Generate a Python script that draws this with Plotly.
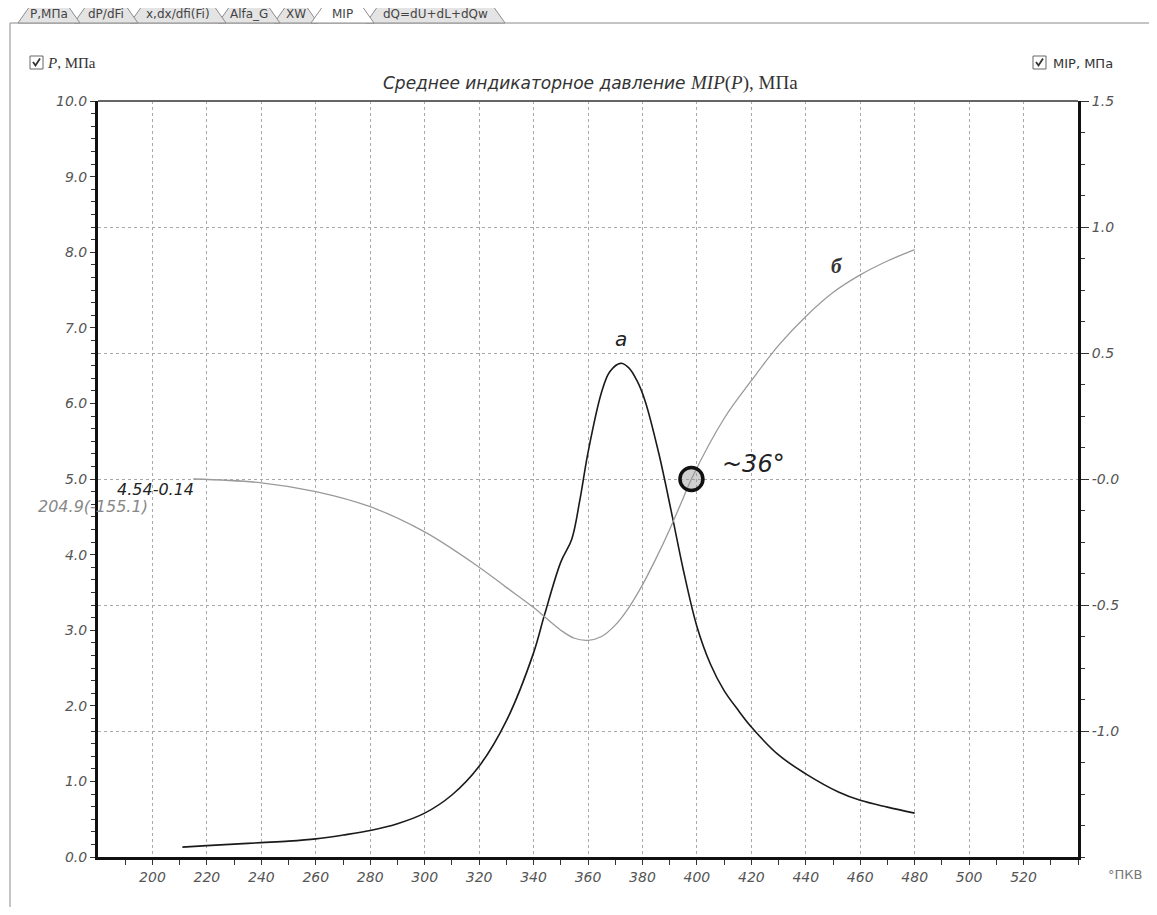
import plotly.graph_objects as go

# ---------------- data ----------------
deg_p = [211, 220, 230, 240, 250, 260, 270, 280, 290, 300, 310, 320, 330, 340, 344, 350, 354,
         357, 360, 365, 368, 372, 375, 378, 381, 386, 391, 395, 400, 405, 410, 415, 420, 430, 440,
         452, 460, 470, 480]
p_mpa = [0.13, 0.15, 0.17, 0.19, 0.21, 0.24, 0.29, 0.35, 0.44, 0.58, 0.82, 1.2, 1.8, 2.7, 3.2,
         3.9, 4.2, 4.72, 5.35, 6.15, 6.42, 6.53, 6.47, 6.3, 6.03, 5.34, 4.5, 3.8, 3.05, 2.55, 2.2,
         1.95, 1.72, 1.35, 1.1, 0.86, 0.75, 0.66, 0.58]

deg_m = [215, 240, 260, 280, 300, 320, 330, 340, 350, 355, 360, 365, 370, 375, 380, 385, 390,
         395, 398, 410, 420, 430, 440, 450, 460, 470, 480]
mip = [0.0, -0.015, -0.05, -0.11, -0.21, -0.35, -0.43, -0.51, -0.6, -0.632, -0.64, -0.625,
       -0.58, -0.51, -0.42, -0.315, -0.2, -0.075, 0.0, 0.24, 0.39, 0.53, 0.645, 0.74, 0.81,
       0.865, 0.91]

x_ticks = list(range(200, 521, 20))
x_minor = list(range(190, 541, 10))
y_ticks = [i for i in range(0, 11)]
y_text = [f"{v:.1f}" for v in y_ticks]
y2_ticks = [1.5, 1.0, 0.5, 0.0, -0.5, -1.0]
y2_text = ["1.5", "1.0", "0.5", "-0.0", "-0.5", "-1.0"]

tabs = ["P,МПа", "dP/dFi", "x,dx/dfi(Fi)", "Alfa_G", "XW", "MIP", "dQ=dU+dL+dQw"]
tab_edges = [(18, 80), (74, 138), (130, 226), (218, 280), (274, 318), (311, 374), (366, 505)]
active_tab = 5

# -------------- layout (page pixels; the page body has an 8px margin) --------------
OFF = 8
W, H = 1157 - 2 * OFF, 915 - 2 * OFF
L, R, T, B = 98, 1078, 101, 857  # plot area in page pixels


def px(x):
    return (x - L) / (R - L)


def py(y):
    return (B - y) / (B - T)


tick_font = dict(family="DejaVu Sans", size=14, color="#555555", style="italic")

fig = go.Figure()
fig.add_trace(go.Scatter(x=deg_p, y=p_mpa, mode="lines", line=dict(color="#1a1a1a", width=1.6, shape="spline"),
                         showlegend=False, hoverinfo="skip"))
fig.add_trace(go.Scatter(x=deg_m, y=mip, mode="lines", line=dict(color="#9a9a9a", width=1.3, shape="spline"),
                         yaxis="y2", showlegend=False, hoverinfo="skip"))
fig.add_trace(go.Scatter(x=[398], y=[0.0], mode="markers", yaxis="y2",
                         marker=dict(size=23, color="rgba(150,150,150,0.45)", line=dict(color="#111", width=3.5)),
                         showlegend=False, hoverinfo="skip"))

fig.update_layout(
    width=W, height=H,
    margin=dict(l=L - OFF, r=W - (R - OFF), t=T - OFF, b=H - (B - OFF), autoexpand=False),
    paper_bgcolor="white", plot_bgcolor="white",
    xaxis=dict(range=[180, 540], tickmode="array", tickvals=x_ticks, ticks="outside", ticklen=5,
               tickcolor="#333", tickfont=tick_font, showgrid=True, gridcolor="#a8a8a8",
               griddash="dot", gridwidth=1, showline=True, linecolor="#111", linewidth=3,
               zeroline=False,
               minor=dict(tickmode="array", tickvals=x_minor, ticks="outside", ticklen=5,
                          tickcolor="#333", showgrid=False)),
    yaxis=dict(range=[0, 10], tickmode="array", tickvals=y_ticks, ticktext=y_text, ticks="outside",
               ticklen=5, tickcolor="#333", tickfont=tick_font, showgrid=False, zeroline=False,
               showline=True, linecolor="#111", linewidth=3,
               minor=dict(tickmode="linear", tick0=0, dtick=1 / 6, ticks="outside", ticklen=4,
                          tickcolor="#333", showgrid=False)),
    yaxis2=dict(range=[-1.5, 1.5], overlaying="y", side="right", tickmode="array", tickvals=y2_ticks,
                ticktext=y2_text, ticks="outside", ticklen=8, tickcolor="#333", tickfont=tick_font,
                showgrid=True, gridcolor="#a8a8a8", griddash="dot", gridwidth=1, zeroline=False,
                showline=True, linecolor="#111", linewidth=3,
                minor=dict(tickmode="linear", tick0=0, dtick=0.125, ticks="outside", ticklen=4,
                           tickcolor="#333", showgrid=False)),
)

shapes = []
ann = []


def note(x, y, text, font, xanchor="center", ref="paper"):
    d = dict(x=x, y=y, text=text, showarrow=False, font=font, xanchor=xanchor, yanchor="middle")
    if ref == "paper":
        d.update(xref="paper", yref="paper")
    ann.append(d)


# top frame line
shapes.append(dict(type="line", xref="paper", yref="paper", x0=0, x1=1, y0=1, y1=1,
                   line=dict(color="#666", width=2)))
# panel border
shapes.append(dict(type="line", xref="paper", yref="paper", x0=px(10), x1=px(1157), y0=py(23), y1=py(23),
                   line=dict(color="#8a8a8a", width=1)))
shapes.append(dict(type="line", xref="paper", yref="paper", x0=px(10), x1=px(10), y0=py(23), y1=py(915),
                   line=dict(color="#8a8a8a", width=1)))

# tabs
top_y, bot_y, text_y = 6, 23, 14
order = [i for i in range(len(tabs)) if i != active_tab][::-1] + [active_tab]
for i in order:
    x0, x1 = tab_edges[i]
    path = (f"M {px(x0)},{py(bot_y)} L {px(x0 + 12)},{py(top_y)} L {px(x1 - 12)},{py(top_y)} "
            f"L {px(x1)},{py(bot_y)} Z")
    fill = "white" if i == active_tab else "#e4e4e4"
    shapes.append(dict(type="path", xref="paper", yref="paper", path=path, fillcolor=fill,
                       line=dict(color="#8c8c8c", width=1)))
for i, t in enumerate(tabs):
    x0, x1 = tab_edges[i]
    note(px((x0 + x1) / 2), py(text_y), t, dict(family="DejaVu Sans", size=12, color="#444"))

# checkboxes
for bx in (30, 1033):
    shapes.append(dict(type="rect", xref="paper", yref="paper", x0=px(bx), x1=px(bx + 13),
                       y0=py(69), y1=py(56), line=dict(color="#666", width=1), fillcolor="white"))
    shapes.append(dict(type="path", xref="paper", yref="paper",
                       path=f"M {px(bx + 3)},{py(62)} L {px(bx + 5.5)},{py(65.5)} L {px(bx + 10)},{py(58.5)}",
                       line=dict(color="#333", width=1.8)))
note(px(45), py(63), "<i>P</i>, МПа", dict(family="Liberation Serif", size=15, color="#333"), xanchor="left")
note(px(1051), py(63), "MIP, МПа", dict(family="DejaVu Sans", size=13, color="#333"), xanchor="left")

# title
note(px(590), py(83),
     "<i>Среднее индикаторное давление</i> "
     "<span style='font-family:Liberation Serif;font-size:19px'><i>MIP</i>(<i>P</i>), МПа</span>",
     dict(family="DejaVu Sans", size=17, color="#333"))

# curve labels (data coordinates)
note(372, 6.85, "<i>a</i>", dict(family="DejaVu Sans", size=20, color="#222"), ref="data")
note(451.5, 7.82, "<b><i>б</i></b>", dict(family="Liberation Serif", size=21, color="#333"), ref="data")
note(408.5, 5.2, "<i>~36°</i>", dict(family="DejaVu Sans", size=24, color="#222"), xanchor="left", ref="data")

# cursor readouts
note(px(155), py(489), "<i>4.54-0.14</i>", dict(family="DejaVu Sans", size=16, color="#222"))
note(px(93), py(507), "<i>204.9(-155.1)</i>", dict(family="DejaVu Sans", size=16, color="#888"))
# x unit
note(px(1125), py(874), "°ПКВ", dict(family="DejaVu Sans", size=13, color="#777"))

fig.update_layout(shapes=shapes, annotations=ann)
fig.write_html("out.html")
